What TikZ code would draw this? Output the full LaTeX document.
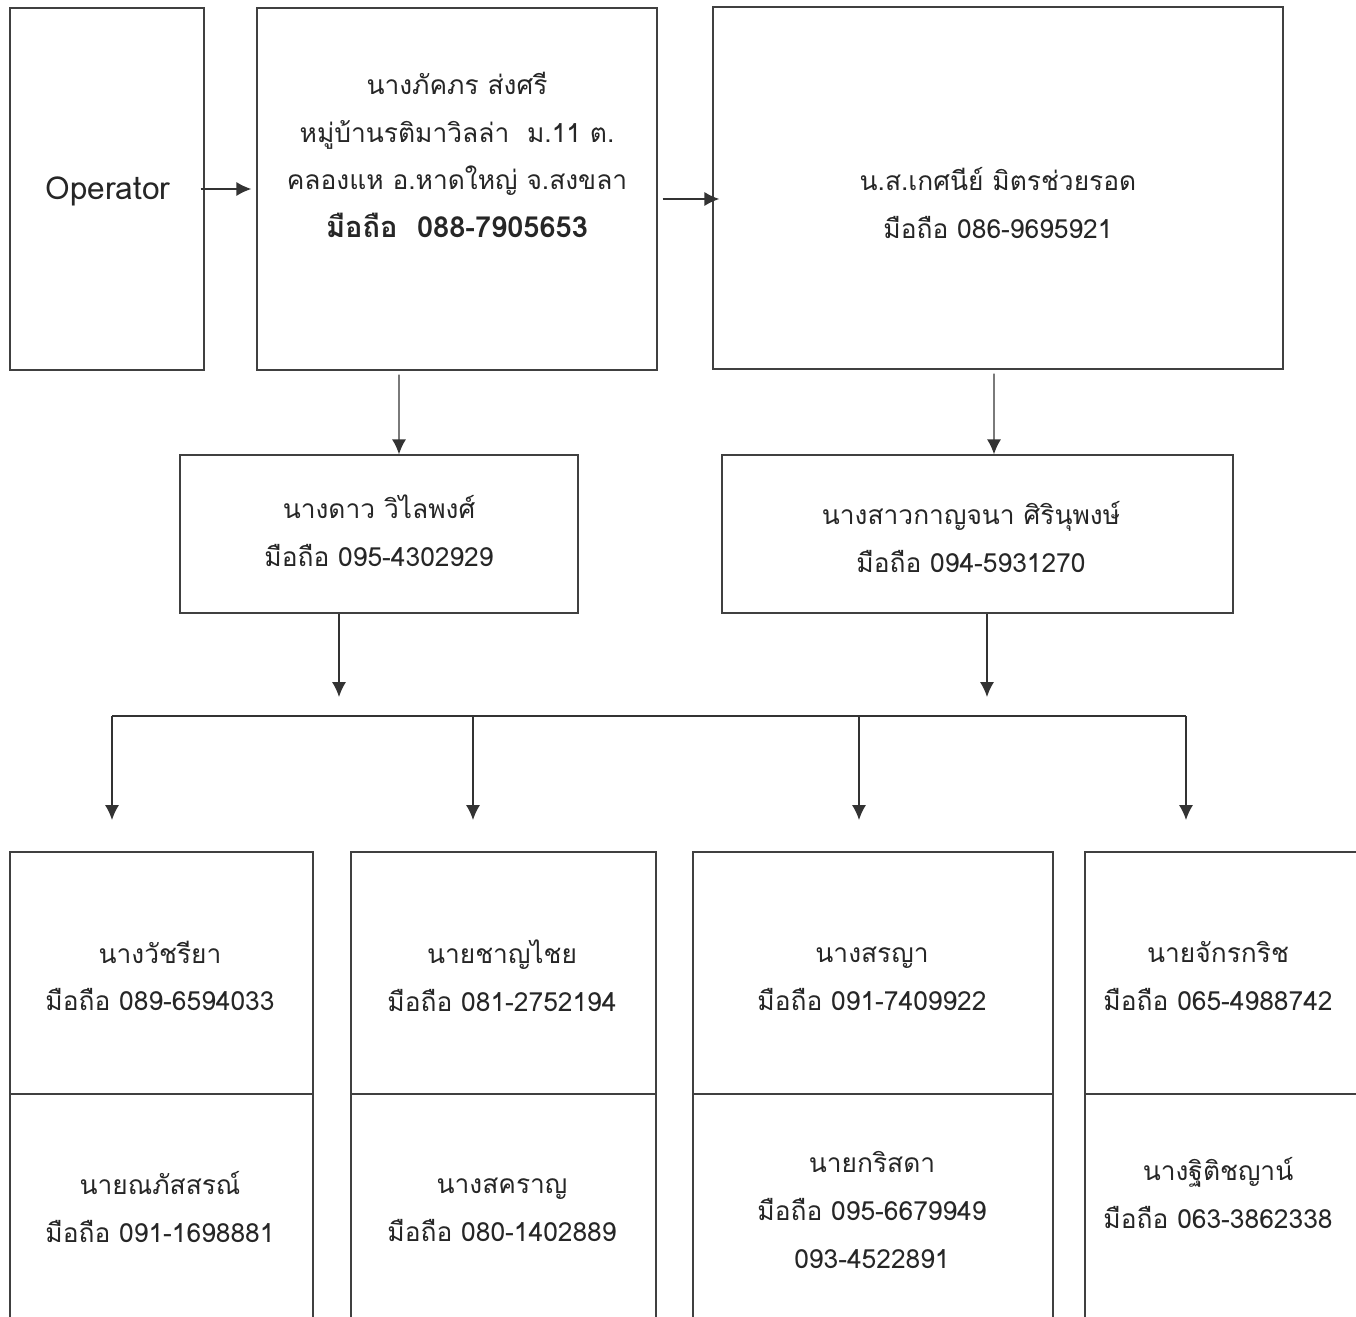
\documentclass[tikz,border=0pt]{standalone}
\usepackage{fontspec}
\newfontfamily\thai[Script=Thai]{Loma}
\usetikzlibrary{arrows.meta}

\tikzset{
  box/.style={rectangle, draw=black!75, line width=0.8pt, inner sep=0pt},
  txt/.style={align=center, text=black!85, font=\thai\fontsize{15}{27.2}\selectfont},
  arr/.style={draw=black!80, line width=0.8pt, -{Latex[length=8.5pt,width=8pt]}}
}

\begin{document}
\begin{tikzpicture}[x=0.02cm, y=-0.02cm]
  \useasboundingbox (0,0) rectangle (1356,1317);
  \clip (0,0) rectangle (1356,1317);

  % top row
  \node[box, minimum width=3.88cm, minimum height=7.24cm] (op) at (107,189) {};
  \node[box, minimum width=8cm, minimum height=7.24cm] (hq) at (457,189) {};
  \node[box, minimum width=11.4cm, minimum height=7.24cm] (mgr) at (998,188) {};

  \node[txt, font=\thai\fontsize{18}{27.2}\selectfont] (opT) at (108,191) {Operator};
  \node[txt] (hqT) at (457,155) {นางภัคภร ส่งศรี\\หมู่บ้านรติมาวิลล่า\ \ ม.11 ต.\\คลองแห อ.หาดใหญ่ จ.สงขลา\\{\fontsize{16.5}{27.2}\selectfont\textbf{มือถือ\ \ 088-7905653}}};
  \node[txt] (mgrT) at (998,203) {น.ส.เกศนีย์ มิตรช่วยรอด\\มือถือ 086-9695921};

  % second row
  \node[box, minimum width=7.96cm, minimum height=3.16cm] (subL) at (379,534) {};
  \node[box, minimum width=10.22cm, minimum height=3.16cm] (subR) at (977.5,534) {};

  \node[txt] (subLT) at (379,531) {นางดาว วิไลพงศ์\\มือถือ 095-4302929};
  \node[txt] (subRT) at (971,537) {นางสาวกาญจนา ศิรินุพงษ์\\มือถือ 094-5931270};

  % bottom row, upper halves
  \node[box, minimum width=6.06cm, minimum height=4.84cm] (e1) at (161.5,973) {};
  \node[box, minimum width=6.1cm, minimum height=4.84cm] (f1) at (503.5,973) {};
  \node[box, minimum width=7.2cm, minimum height=4.84cm] (g1) at (873,973) {};
  \node[box, minimum width=6.3cm, minimum height=4.84cm] (h1) at (1242.5,973) {};
  % lower halves
  \node[box, minimum width=6.06cm, minimum height=4.92cm] (e2) at (161.5,1217) {};
  \node[box, minimum width=6.1cm, minimum height=4.92cm] (f2) at (503.5,1217) {};
  \node[box, minimum width=7.2cm, minimum height=4.92cm] (g2) at (873,1217) {};
  \node[box, minimum width=6.3cm, minimum height=4.92cm] (h2) at (1242.5,1217) {};

  \node[txt] (e1T) at (160,976) {นางวัชรียา\\มือถือ 089-6594033};
  \node[txt] (f1T) at (502,976) {นายชาญไชย\\มือถือ 081-2752194};
  \node[txt] (g1T) at (872,979) {นางสรญา\\มือถือ 091-7409922};
  \node[txt] (h1T) at (1218,976) {นายจักรกริช\\มือถือ 065-4988742};

  \node[txt] (e2T) at (160,1207) {นายณภัสสรณ์\\มือถือ 091-1698881};
  \node[txt] (f2T) at (502,1210) {นางสคราญ\\มือถือ 080-1402889};
  \node[txt] (g2T) at (872,1210) {นายกริสดา\\มือถือ 095-6679949\\093-4522891};
  \node[txt] (h2T) at (1218,1193) {นางฐิติชญาน์\\มือถือ 063-3862338};

  % connectors
  \draw[arr] ([xshift=-0.08cm]op.east) -- ([xshift=-0.1cm]hq.west);
  \draw[arr] ([shift={(0.1cm,-0.2cm)}]hq.east) coordinate (hqOut) -- ([xshift=0.14cm]hqOut -| mgr.west);
  \draw[arr] ([shift={(-1.16cm,-0.08cm)}]hq.south) -- ([xshift=0.4cm]subL.north);
  \draw[arr] ([shift={(-0.08cm,-0.08cm)}]mgr.south) -- ([xshift=0.33cm]subR.north);

  \coordinate (tipL) at (339,697);
  \coordinate (tipR) at (987,697);
  \draw[arr] (subL.south -| tipL) -- (tipL);
  \draw[arr] (subR.south -| tipR) -- (tipR);

  \coordinate (busL) at (112,716);
  \coordinate (busR) at (1186,716);
  \draw[draw=black!80, line width=0.8pt] (busL) -- (busR);
  \foreach \x/\n in {112/a,473/b,859/c,1186/d}{
    \coordinate (drop\n) at (\x,820);
    \draw[arr] (drop\n |- busL) -- (drop\n);
  }
\end{tikzpicture}
\end{document}
